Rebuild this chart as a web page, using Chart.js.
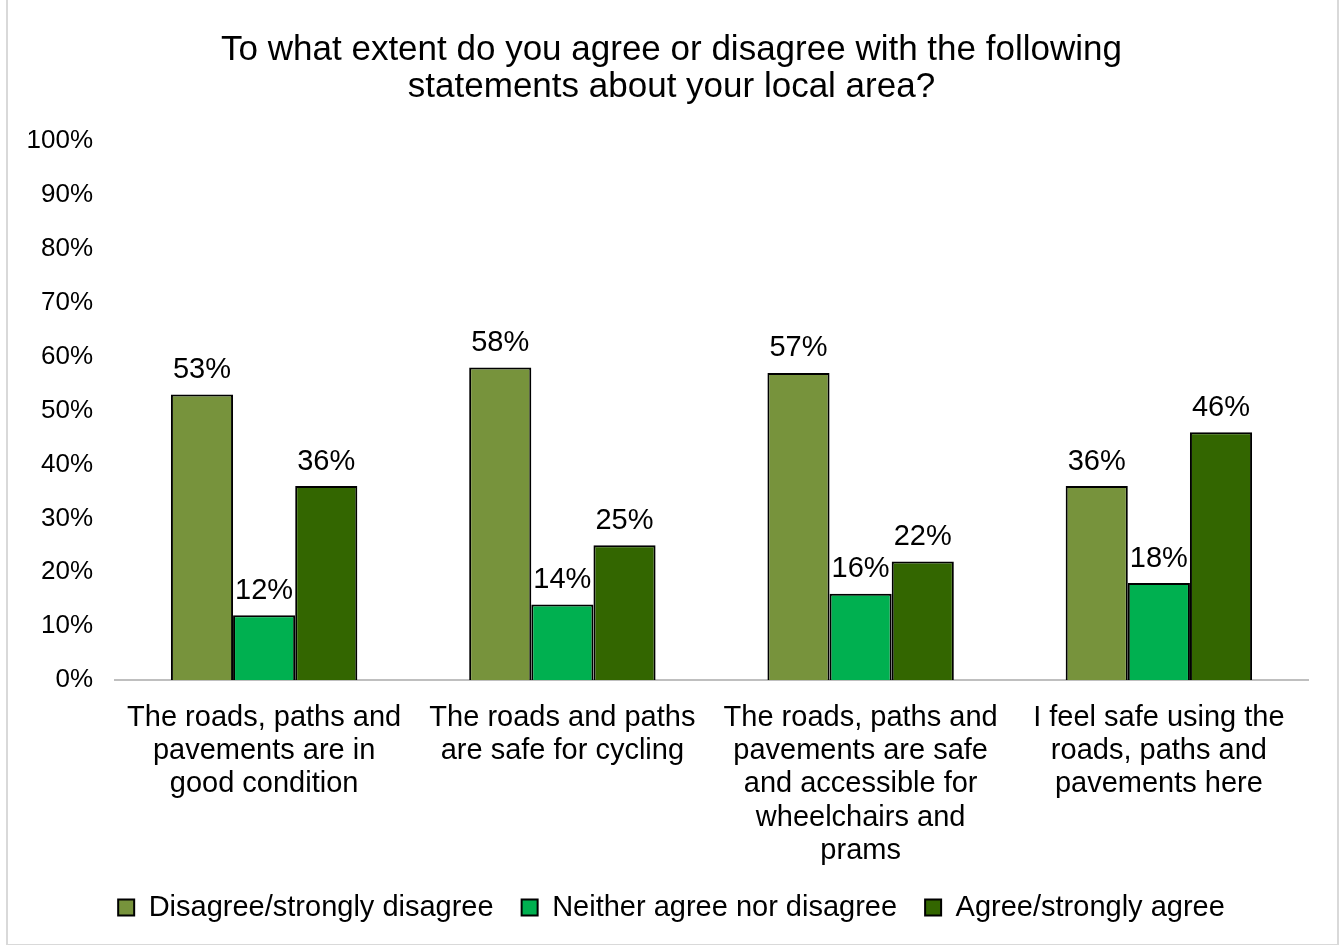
<!DOCTYPE html>
<html>
<head>
<meta charset="utf-8">
<script src="https://cdn.jsdelivr.net/npm/chart.js@4"></script>
<style>
  body { margin: 0; background: #fff; }
  #frame { position: absolute; left: 6px; top: -2px; width: 1329px; height: 944px; border: 2px solid #d9d9d9; }
  #wrap { position: absolute; left: 0; top: 0; width: 1343px; height: 945px; }
</style>
</head>
<body>
<div id="frame"></div>
<div id="wrap"><canvas id="myChart"></canvas></div>
<script>
const categories = [
  ['The roads, paths and', 'pavements are in', 'good condition'],
  ['The roads and paths', 'are safe for cycling'],
  ['The roads, paths and', 'pavements are safe', 'and accessible for', 'wheelchairs and', 'prams'],
  ['I feel safe using the', 'roads, paths and', 'pavements here']
];
const disagree = [53, 58, 57, 36];
const neither = [12, 14, 16, 18];
const agree = [36, 25, 22, 46];
const seriesNames = ['Disagree/strongly disagree', 'Neither agree nor disagree', 'Agree/strongly agree'];
const colours = ['#77933c', '#00b050', '#336600'];

const ctx = document.getElementById('myChart');
const font = 'Liberation Sans, Arial, sans-serif';

// writes the % value above each bar
const valueLabels = {
  id: 'valueLabels',
  afterDatasetsDraw(chart) {
    const c = chart.ctx;
    c.save();
    c.font = '29px ' + font;
    c.fillStyle = '#000';
    c.textAlign = 'center';
    c.textBaseline = 'bottom';
    chart.data.datasets.forEach((ds, i) => {
      chart.getDatasetMeta(i).data.forEach((bar, j) => {
        c.fillText(ds.data[j] + '%', bar.x, bar.y - 10);
      });
    });
    c.restore();
  }
};

new Chart(ctx, {
  type: 'bar',
  data: {
    labels: categories,
    datasets: [disagree, neither, agree].map((d, i) => ({
      label: seriesNames[i],
      data: d,
      backgroundColor: colours[i],
      borderColor: '#000',
      borderWidth: 2,
      borderSkipped: 'bottom',
      categoryPercentage: 0.625,
      barPercentage: 1
    }))
  },
  options: {
    responsive: true,
    maintainAspectRatio: false,
    animation: false,
    layout: { padding: { left: 10, right: 10, top: 32, bottom: 13 } },
    plugins: {
      title: {
        display: true,
        text: ['To what extent do you agree or disagree with the following', 'statements about your local area?'],
        color: '#000',
        font: { family: font, size: 35, weight: 'normal', lineHeight: 1.06 },
        padding: { top: 0, bottom: 35 }
      },
      legend: {
        position: 'bottom',
        labels: {
          color: '#000',
          font: { family: font, size: 29 },
          boxWidth: 16,
          boxHeight: 16,
          padding: 28
        }
      },
      tooltip: { enabled: false }
    },
    scales: {
      x: {
        grid: { display: false },
        border: { display: true, color: '#bfbfbf', width: 2 },
        ticks: {
          color: '#000',
          font: { family: font, size: 29, lineHeight: 1.15 },
          maxRotation: 0,
          autoSkip: false,
          padding: 13
        },
        afterFit(scale) { scale.height = 185; }
      },
      y: {
        min: 0,
        max: 100,
        grid: { display: false, drawTicks: false },
        border: { display: false },
        ticks: {
          stepSize: 10,
          color: '#000',
          font: { family: font, size: 26 },
          padding: 22,
          callback: v => v + '%'
        },
        afterFit(scale) { scale.width = 105; }
      },
      // empty right-hand margin so the plot ends short of the frame
      yRight: {
        position: 'right',
        grid: { display: false },
        border: { display: false },
        ticks: { display: false },
        afterFit(scale) { scale.width = 25; }
      }
    }
  },
  plugins: [valueLabels]
});
</script>
</body>
</html>
